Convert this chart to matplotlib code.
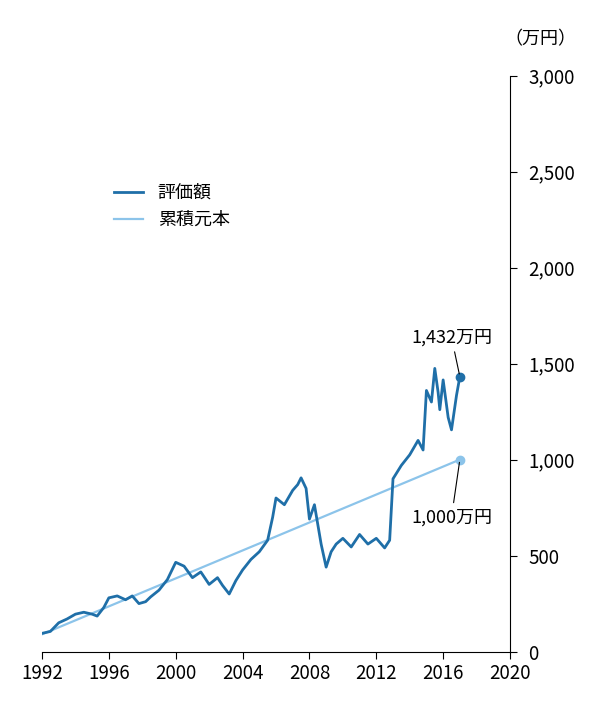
import matplotlib
matplotlib.use("Agg")
import matplotlib.pyplot as plt

plt.rcParams["font.family"] = "Noto Sans CJK JP"

# 評価額 (万円)
years = [1992, 1992.5, 1993, 1993.5, 1994, 1994.5, 1995, 1995.3, 1995.7, 1996, 1996.5, 1997, 1997.4, 1997.8,
         1998.2, 1998.5, 1999, 1999.5, 2000, 2000.5, 2001, 2001.5, 2002, 2002.5, 2002.8, 2003.2,
         2003.6, 2004, 2004.5, 2005, 2005.5, 2005.8, 2006, 2006.5, 2007, 2007.3, 2007.5, 2007.8,
         2008, 2008.3, 2008.7, 2009, 2009.3, 2009.6, 2010, 2010.5, 2011, 2011.5, 2012, 2012.5,
         2012.8, 2013, 2013.5, 2014, 2014.5, 2014.8, 2015, 2015.3, 2015.5, 2015.7, 2015.8, 2016,
         2016.3, 2016.5, 2016.8, 2017]
value = [95, 105, 150, 170, 195, 205, 195, 185, 230, 280, 290, 270, 290, 250,
         260, 285, 320, 375, 465, 445, 385, 415, 350, 385, 345, 300,
         370, 425, 480, 520, 580, 700, 800, 765, 840, 870, 905, 850,
         690, 765, 560, 440, 520, 560, 590, 545, 610, 560, 590, 540,
         580, 900, 970, 1025, 1100, 1050, 1360, 1300, 1475, 1350, 1260, 1415,
         1220, 1155, 1335, 1432]

# 累積元本 (万円)
principal_years = [1992, 2017]
principal = [90, 1000]

fig = plt.figure(figsize=(6, 7.2), dpi=100)
ax = fig.add_axes([0.07, 0.095, 0.78, 0.8])

dark = "#1f6fa8"
light = "#8cc4ea"
ax.plot(principal_years, principal, color=light, lw=1.6, label="累積元本")
ax.plot(years, value, color=dark, lw=2.0, label="評価額")
ax.plot([2017], [1432], "o", color=dark, ms=6)
ax.plot([2017], [1000], "o", color=light, ms=6)

ax.set_xlim(1992, 2020)
ax.set_ylim(0, 3000)
ax.set_xticks(range(1992, 2021, 4))
ax.set_yticks(range(0, 3001, 500))
ax.set_yticklabels([f"{v:,}" for v in range(0, 3001, 500)])
ax.yaxis.tick_right()
for s in ["top", "left"]:
    ax.spines[s].set_visible(False)
ax.spines["right"].set_position(("data", 2020))
ax.tick_params(labelsize=13.5, length=5, direction="out")
ax.tick_params(axis="y", pad=8)

ax.text(2021.8, 3140, "（万円）", fontsize=13, ha="center", va="bottom")

ax.annotate("1,432万円", xy=(2017, 1432), xytext=(2016.5, 1590), fontsize=13,
            ha="center", va="bottom", arrowprops=dict(arrowstyle="-", color="black", lw=0.8))
ax.annotate("1,000万円", xy=(2017, 1000), xytext=(2016.5, 700), fontsize=13,
            ha="center", va="center", arrowprops=dict(arrowstyle="-", color="black", lw=0.8))

h, l = ax.get_legend_handles_labels()
ax.legend(h[::-1], l[::-1], loc="upper left", bbox_to_anchor=(0.12, 0.84), frameon=False,
          fontsize=13, handlelength=1.6)

fig.savefig("out.png", dpi=100)
